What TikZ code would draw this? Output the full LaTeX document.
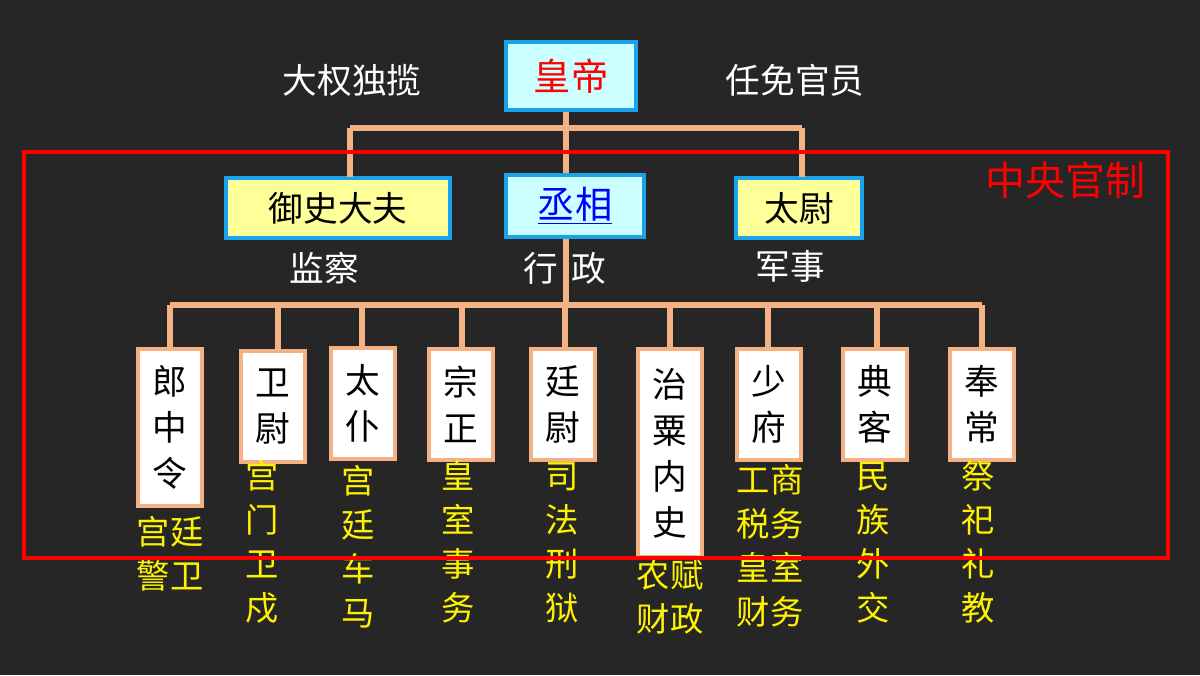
\documentclass[tikz,border=0pt]{standalone}
\usepackage{fontspec}
\setmainfont{Noto Sans CJK SC}
\usetikzlibrary{positioning}
\definecolor{bg}{HTML}{262626}
\definecolor{peach}{HTML}{F4B183}
\definecolor{frame}{HTML}{1AA3E8}
\definecolor{cyanfill}{HTML}{CCFFFF}
\definecolor{yelfill}{HTML}{FFFF99}
\tikzset{
    x=0.75pt, y=-0.75pt, % pixel grid of the reference
    link/.style={draw=peach, line width=3.8pt}, % tree lines
    top/.style={draw=frame, line width=3pt, fill=cyanfill, minimum height=51pt, font=\fontsize{28}{30}\selectfont}, % top-level boxes
    mid/.style={draw=frame, line width=3pt, fill=yelfill, minimum height=45pt, font=\fontsize{26}{30}\selectfont}, % three ministers
    low/.style={draw=peach, line width=3pt, fill=white, anchor=north, minimum width=48pt, align=center, font=\fontsize{26}{34.5}\selectfont}, % nine ministers
    note/.style={text=white, font=\fontsize{26}{30}\selectfont},
    duty/.style={text=yellow, anchor=north, align=center, font=\fontsize{25}{33}\selectfont},
}
\begin{document}
\begin{tikzpicture}
\fill[bg] (0,0) rectangle (1200,675);
\useasboundingbox (0,0) rectangle (1200,675);

% emperor
\node[top, minimum width=97pt, text=red] (emp) at (571,76) {皇帝};
\node[note] (power) at (352,80) {大权独揽};
\node[note] (appoint) at (795,80) {任免官员};

% three ministers
\node[mid, minimum width=168pt] (ysdf) at (338,208) {御史大夫};
\node[top, minimum width=103pt, minimum height=47pt, text=blue] (cx) at (575,206) {\underline{丞相}};
\node[mid, minimum width=94pt] (tw) at (799,208) {太尉};
\node[note] (jc) at (324,268) {监察};
\node[note] (xz) at (565,268) {行\,\ 政};
\node[note] (js) at (790,266) {军事};

\coordinate (bus1) at (566,128);
\draw[link] (emp.south -| bus1) -- (cx.north -| bus1);
\draw[link] (350,128) -- (802,128);
\draw[link] (350,128) -- (350,177);
\draw[link] (802,128) -- (802,177);

% nine ministers
\node[low, minimum height=118pt] (lzl) at (170,347) {郎\\中\\令};
\node[low, minimum height=83pt] (wy) at (273,349) {卫\\尉};
\node[low, minimum height=83pt] (tp) at (363,346) {太\\仆};
\node[low, minimum height=83pt] (zz) at (461,347) {宗\\正};
\node[low, minimum height=83pt] (tyw) at (563,347) {廷\\尉};
\node[low, minimum height=156pt] (zsns) at (670,347) {治\\粟\\内\\史};
\node[low, minimum height=83pt] (sf) at (769,347) {少\\府};
\node[low, minimum height=83pt] (dk) at (875,347) {典\\客};
\node[low, minimum height=83pt] (fc) at (982,347) {奉\\常};

\coordinate (bus2) at (566,305);
\draw[link] (cx.south -| bus2) -- (bus2);
\draw[link] (lzl.north |- bus2) -- (fc.north |- bus2);
\foreach \n/\dx in {lzl/0,wy/5,tp/-1,zz/1,tyw/2,zsns/0,sf/-1,dk/2,fc/0}
    \draw[link] ([xshift=\dx*0.75pt]\n.north |- bus2) -- ([xshift=\dx*0.75pt]\n.north);

% duties
\node[duty] (d1) at (170,512) {宫廷\\警卫};
\node[duty] (d2) at (262,456) {宫\\门\\卫\\戍};
\node[duty] (d3) at (358,461) {宫\\廷\\车\\马};
\node[duty] (d4) at (458,456) {皇\\室\\事\\务};
\node[duty] (d5) at (562,458) {司\\法\\刑\\狱};
\node[duty] (d6) at (670,555) {农赋\\财政};
\node[duty] (d7) at (770,460) {工商\\税务\\皇室\\财务};
\node[duty] (d8) at (873,458) {民\\族\\外\\交};
\node[duty] (d9) at (978,456) {祭\\祀\\礼\\教};

% central frame
\draw[red, line width=2.3pt] (24,152) rectangle (1168,558);
\node[text=red, font=\fontsize{30}{32}\selectfont] (title) at (1065,180) {中央官制};
\end{tikzpicture}
\end{document}
